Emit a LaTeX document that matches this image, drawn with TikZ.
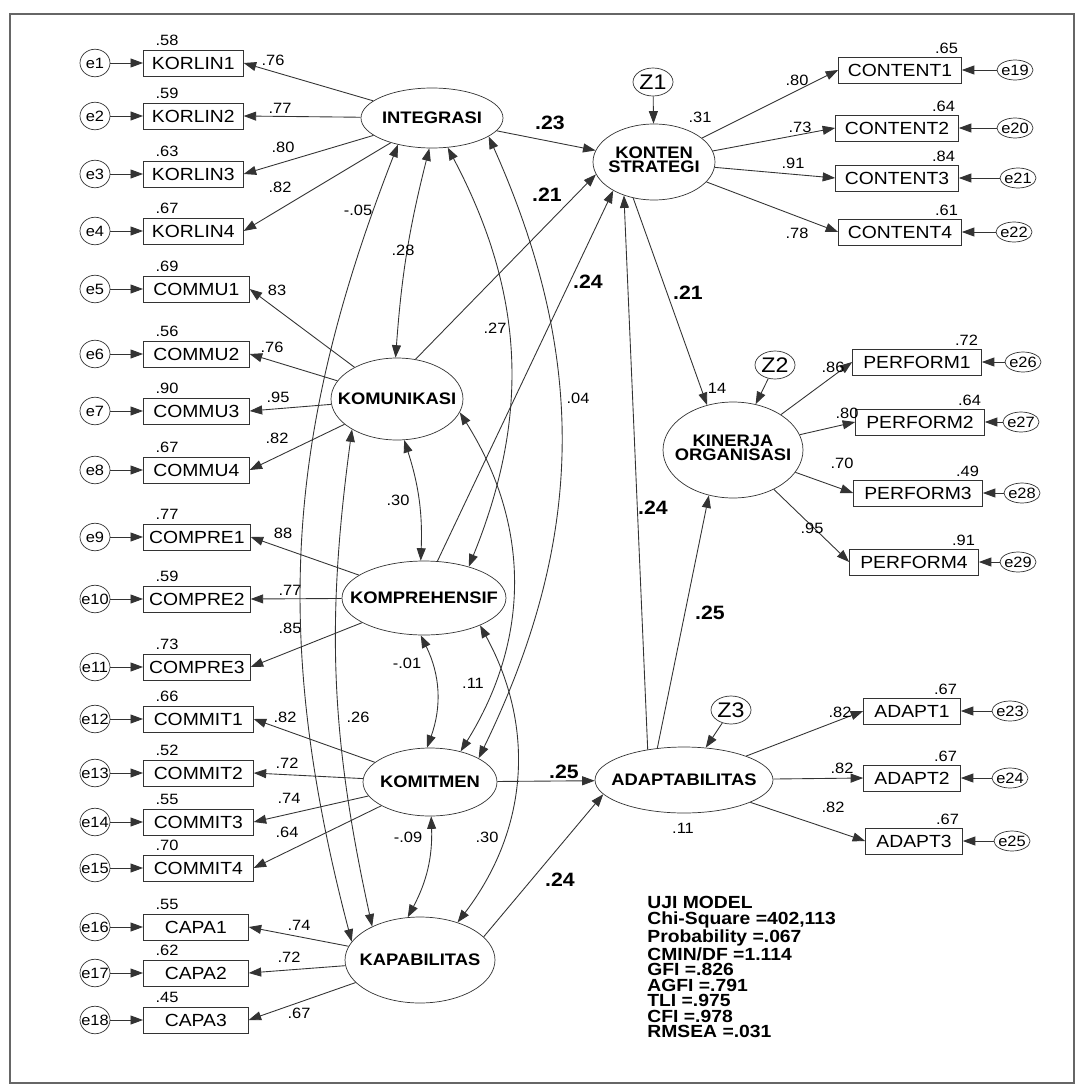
\documentclass[tikz,border=0pt]{standalone}
\usepackage{fontspec}
\setmainfont{Liberation Sans}[FakeStretch=1.1]
\usetikzlibrary{arrows.meta,shapes.geometric}
\newcommand\zw[1]{\makebox[0pt]{#1}}
\tikzset{
  ln/.style={draw=black!80, line width=0.5pt, -{Triangle[length=2.5mm,width=1.8mm]}},
  cov/.style={draw=black!80, line width=0.5pt, {Triangle[length=2.5mm,width=1.8mm]}-{Triangle[length=2.5mm,width=1.8mm]}},
  ind/.style={draw=black!80, rectangle, minimum width=#1, minimum height=0.52cm, inner sep=1pt, font=\fontsize{10}{12}\selectfont},
  lat/.style 2 args={draw=black!80, ellipse, minimum width=#1, minimum height=#2, inner sep=0pt, font=\fontsize{9.5}{10}\selectfont\bfseries},
  err/.style={draw=black!80, ellipse, minimum width=0.6cm, minimum height=0.55cm, inner sep=0pt, font=\fontsize{8.5}{9}\selectfont},
  errr/.style={err, minimum width=0.72cm, minimum height=0.4cm},
  dist/.style={draw=black!80, ellipse, minimum width=0.8cm, minimum height=0.56cm, inner sep=0pt, font=\fontsize{12}{12}\selectfont},
  num/.style={inner sep=0pt, font=\fontsize{8.5}{9}\selectfont},
  coef/.style={inner sep=0pt, font=\fontsize{11}{12}\selectfont\bfseries}
}
\begin{document}
\begin{tikzpicture}[x=0.02cm, y=-0.02cm]
\useasboundingbox (0,0) rectangle (1081,1088);
\fill[white] (0,0) rectangle (1081,1088);
\draw[black!60, line width=1pt] (10,14) rectangle (1074,1083);

% latent variables
\node[lat={2.84cm}{1.2cm}] (int) at (432,118) {\zw{INTEGRASI}};
\node[lat={2.64cm}{1.64cm}] (kom) at (397,399) {\zw{KOMUNIKASI}};
\node[lat={3.28cm}{1.48cm}] (komp) at (424,598) {\zw{KOMPREHENSIF}};
\node[lat={2.68cm}{1.36cm}] (komit) at (430,782) {\zw{KOMITMEN}};
\node[lat={3.0cm}{1.72cm}] (kapa) at (420,960) {\zw{KAPABILITAS}};
\node[lat={2.44cm}{1.52cm}] (konten) at (654,162) {\zw{\begin{tabular}{@{}c@{}}KONTEN\\[-2pt]STRATEGI\end{tabular}}};
\node[lat={2.8cm}{1.92cm}] (kinerja) at (733,450) {\zw{\begin{tabular}{@{}c@{}}KINERJA\\[-2pt]ORGANISASI\end{tabular}}};
\node[lat={3.56cm}{1.32cm}] (adapt) at (684,780) {\zw{ADAPTABILITAS}};

\node[dist] (z1) at (653,82) {Z1};
\node[dist] (z2) at (775,365) {Z2};
\node[dist] (z3) at (731,710) {Z3};

% left indicators
\foreach \n/\lat/\y/\w/\r/\l/\lx/\ly [count=\i] in {
  KORLIN1/int/63/2.0/.58/.76/273/60,
  KORLIN2/int/116/2.0/.59/.77/280/108,
  KORLIN3/int/174/2.0/.63/.80/283/147,
  KORLIN4/int/231/2.0/.67/.82/280/187,
  COMMU1/kom/289/2.12/.69/83/277/290,
  COMMU2/kom/354/2.12/.56/.76/272/347,
  COMMU3/kom/411/2.12/.90/.95/278/397,
  COMMU4/kom/470/2.12/.67/.82/277/438,
  COMPRE1/komp/537/2.14/.77/88/283/533,
  COMPRE2/komp/599/2.14/.59/.77/290/590,
  COMPRE3/komp/667/2.14/.73/.85/290/628,
  COMMIT1/komit/719/2.2/.66/.82/285/717,
  COMMIT2/komit/773/2.2/.52/.72/287/763,
  COMMIT3/komit/822/2.2/.55/.74/289/798,
  COMMIT4/komit/868/2.2/.70/.64/287/832,
  CAPA1/kapa/927/2.1/.55/.74/299/925,
  CAPA2/kapa/973/2.1/.62/.72/289/957,
  CAPA3/kapa/1020/2.1/.45/.67/299/1013}{
  \node[ind=\w cm, anchor=west] (\n) at (143,\y) {\n};
  \node[err] (e\i) at (95,\y) {\zw{e\i}};
  \draw[ln] (e\i) -- (\n);
  \draw[ln] (\lat) -- (\n.east);
  \node[num] (r\i) at (167,\y-23) {\r};
  \node[num] (w\i) at (\lx,\ly) {\l};
}

% right indicators
\foreach \n/\lat/\x/\y/\w/\r/\l/\lx/\ly/\e/\ex in {
  CONTENT1/konten/900/70/2.46/.65/.80/797/80/19/1015,
  CONTENT2/konten/897/128/2.46/.64/.73/800/127/20/1015,
  CONTENT3/konten/897/178/2.46/.84/.91/793/163/21/1018,
  CONTENT4/konten/900/232/2.46/.61/.78/797/233/22/1014,
  PERFORM1/kinerja/917/362/2.58/.72/.86/833/367/26/1023,
  PERFORM2/kinerja/920/422/2.58/.64/.80/847/413/27/1021,
  PERFORM3/kinerja/918/493/2.58/.49/.70/842/463/28/1022,
  PERFORM4/kinerja/914/562/2.58/.91/.95/812/528/29/1018,
  ADAPT1/adapt/912/711/1.94/.67/.82/840/712/23/1010,
  ADAPT2/adapt/912/778/1.94/.67/.82/842/768/24/1010,
  ADAPT3/adapt/914/841/1.94/.67/.82/833/807/25/1012}{
  \node[ind=\w cm] (\n) at (\x,\y) {\n};
  \node[errr] (e\e) at (\ex,\y) {\zw{e\e}};
  \draw[ln] (e\e) -- (\n);
  \draw[ln] (\lat) -- (\n.west);
  \node[num] (r\e) at (\x+\w*25-15,\y-22) {\r};
  \node[num] (w\e) at (\lx,\ly) {\l};
}

% structural paths
\draw[ln] (int) -- (konten);
\draw[ln] (kom.65) -- (konten.192);
\draw[ln] (komp.70) -- (konten.215);
\draw[ln] (adapt.140) -- (konten.228);
\draw[ln] (konten.240) -- (kinerja.120);
\draw[ln] (adapt.130) -- (kinerja.242);
\draw[ln] (komit) -- (adapt);
\draw[ln] (kapa.20) -- (adapt.190);
\draw[ln] (z1) -- (konten);
\draw[ln] (z2) -- (kinerja);
\draw[ln] (z3) -- (adapt);

% covariances
\draw[cov] (int.265) to[bend right=5] (kom.92);
\draw[cov] (int.218) to[bend right=18] (kapa.165);
\draw[cov] (int.298) to[bend left=25] (komp.35);
\draw[cov] (int.342) to[bend left=25] (komit.26);
\draw[cov] (kom.280) to[bend left=10] (komp.95);
\draw[cov] (kom.214) to[bend right=10] (kapa.145);
\draw[cov] (kom.348) to[bend left=32] (komit.45);
\draw[cov] (komp.265) to[bend left=23] (komit.95);
\draw[cov] (komp.334) to[bend left=33] (kapa.45);
\draw[cov] (komit.272) to[bend left=15] (kapa.106);

\foreach \t/\x/\y [count=\i] in {-.05/358/210, .28/403/250, .27/495/328, .04/578/398,
  .30/398/500, -.01/407/663, .11/473/683, .26/358/717, -.09/408/837, .30/487/837,
  .31/700/117, 14/717/388, .11/683/828}
  \node[num] (c\i) at (\x,\y) {\t};

\foreach \t/\x/\y [count=\i] in {.23/550/123, .21/547/195, .24/588/282, .21/688/293,
  .24/653/508, .25/710/613, .25/564/772, .24/560/880}
  \node[coef] (b\i) at (\x,\y) {\t};

\node[anchor=north west, inner sep=0pt, align=left, font=\fontsize{10}{8.8}\selectfont\bfseries] (uji) at (647,896)
  {UJI MODEL\\Chi-Square =402,113\\Probability =.067\\CMIN/DF =1.114\\GFI =.826\\AGFI =.791\\TLI =.975\\CFI =.978\\RMSEA =.031};
\end{tikzpicture}
\end{document}
